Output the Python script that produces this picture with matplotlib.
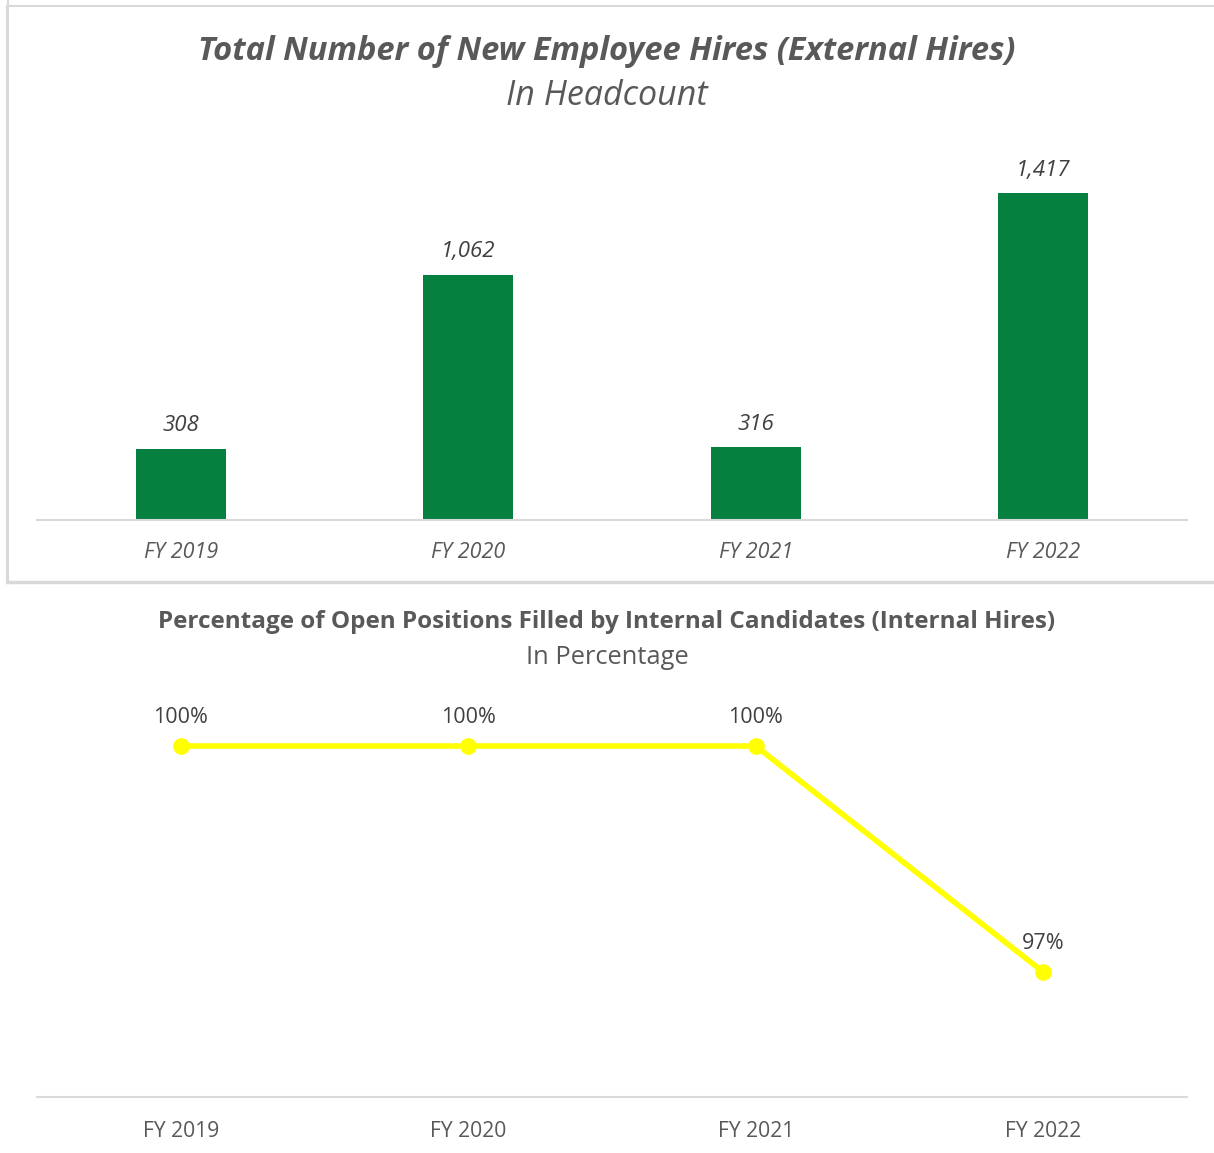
import matplotlib.pyplot as plt
from matplotlib.lines import Line2D

W, H = 1214, 1153
DPI = 100

years = ["FY 2019", "FY 2020", "FY 2021", "FY 2022"]
external_hires = [308, 1062, 316, 1417]
internal_pct = [100, 100, 100, 97]

GREEN = "#06803F"
YELLOW = "#FFFF00"
TEXT = "#595959"
LABEL = "#404040"
GRID = "#D9D9D9"

plt.rcParams['font.family'] = ['Open Sans', 'DejaVu Sans']

fig = plt.figure(figsize=(W / DPI, H / DPI), dpi=DPI)


def fx(px):
    return px / W


def fy(py):
    return 1 - py / H


def axes_px(left, top, right, bottom):
    return fig.add_axes([fx(left), fy(bottom), fx(right - left), (bottom - top) / H])


# panel borders
border = dict(color="#D9D9D9", lw=1.5, transform=fig.transFigure)
fig.add_artist(Line2D([fx(7), fx(7)], [fy(6), fy(581)], **border))
fig.add_artist(Line2D([fx(7), 1], [fy(6), fy(6)], **border))
fig.add_artist(Line2D([fx(7), 1], [fy(582), fy(582)], color="#D9D9D9", lw=2.5,
                      transform=fig.transFigure))
fig.add_artist(Line2D([fx(8), fx(8)], [fy(583), 1], **border))

# === top chart: external hires ===
ax1 = axes_px(37, 140, 1187, 520)
x = range(len(years))
ax1.bar(x, external_hires, width=0.313, color=GREEN)
ax1.set_xlim(-0.5, 3.5)
ax1.set_ylim(0, max(external_hires) * 380 / 327)
for i, v in enumerate(external_hires):
    ax1.annotate(f"{v:,}", (i, v), xytext=(0, 9), textcoords="offset points",
                 ha="center", va="bottom", fontsize=16, style="italic", color=LABEL)
ax1.set_xticks(list(x))
ax1.set_xticklabels(years, fontsize=15.5, style="italic", color=TEXT)
ax1.tick_params(axis="x", length=0, pad=16)
ax1.set_yticks([])
for s in ["top", "left", "right"]:
    ax1.spines[s].set_visible(False)
ax1.spines["bottom"].set_color(GRID)
ax1.spines["bottom"].set_linewidth(1.5)

fig.text(0.5, fy(51), "Total Number of New Employee Hires (External Hires)",
         ha="center", va="center", fontsize=23.5, weight="bold", style="italic", color=TEXT)
fig.text(0.5, fy(96), "In Headcount", ha="center", va="center", fontsize=24.5,
         style="italic", color=TEXT)

# === bottom chart: internal hires ===
ax2 = axes_px(37, 700, 1187, 1097)
ppu = (972 - 746) / (internal_pct[0] - internal_pct[3])
ylo = 100 - (1097 - 746) / ppu
ax2.plot(list(x), internal_pct, color=YELLOW, lw=4, marker="o", markersize=11)
ax2.set_xlim(-0.5, 3.5)
ax2.set_ylim(ylo, ylo + 397 / ppu)
for i, v in enumerate(internal_pct):
    ax2.annotate(f"{v}%", (i, v), xytext=(0, 13), textcoords="offset points",
                 ha="center", va="bottom", fontsize=15.5, color=LABEL)
ax2.set_xticks(list(x))
ax2.set_xticklabels(years, fontsize=15.2, color=TEXT)
ax2.tick_params(axis="x", length=0, pad=17)
ax2.set_yticks([])
for s in ["top", "left", "right"]:
    ax2.spines[s].set_visible(False)
ax2.spines["bottom"].set_color(GRID)
ax2.spines["bottom"].set_linewidth(1.5)

fig.text(0.5, fy(622), "Percentage of Open Positions Filled by Internal Candidates (Internal Hires)",
         ha="center", va="center", fontsize=17.5, weight="bold", color=TEXT)
fig.text(0.5, fy(658), "In Percentage", ha="center", va="center", fontsize=18.4, color=TEXT)

fig.savefig("out.png", dpi=DPI)
